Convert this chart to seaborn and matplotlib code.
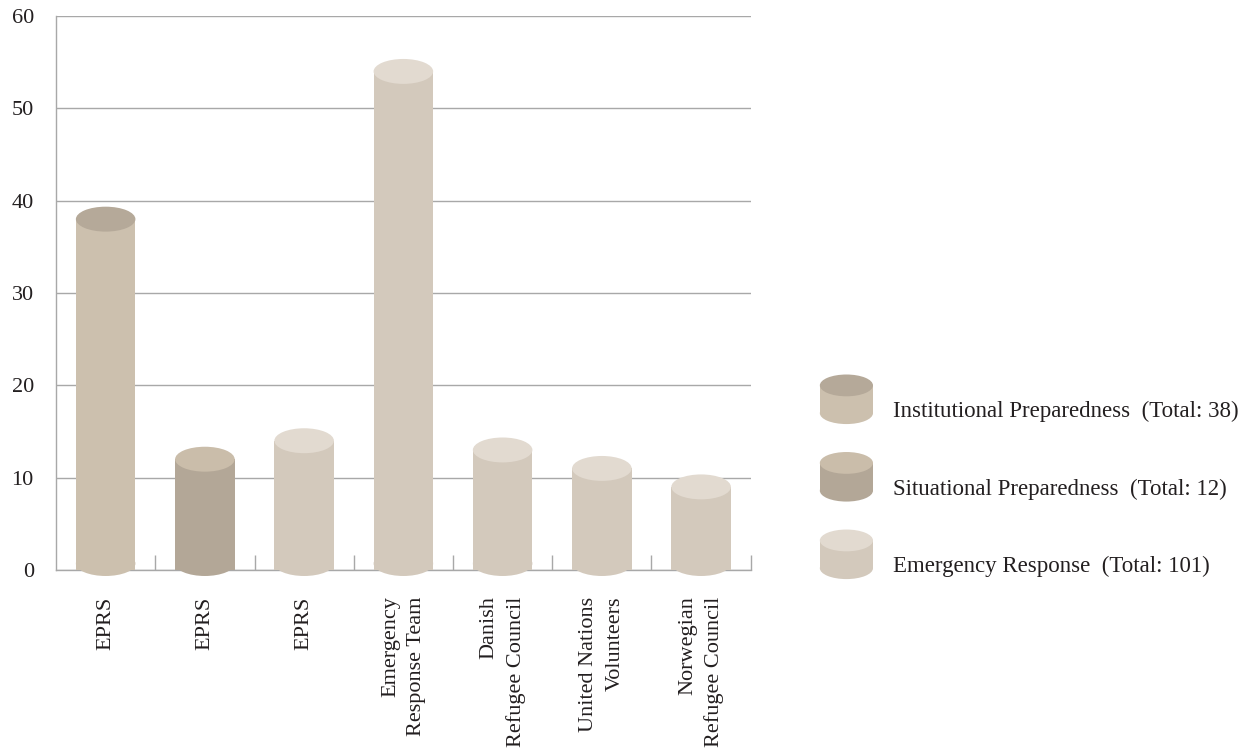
import matplotlib
matplotlib.use("Agg")
import matplotlib.pyplot as plt
import seaborn as sns
import pandas as pd
from matplotlib.patches import Rectangle, Ellipse
from matplotlib.legend_handler import HandlerBase

# ---- data ----
categories = ["EPRS", "EPRS", "EPRS", "Emergency\nResponse Team", "Danish\nRefugee Council",
              "United Nations\nVolunteers", "Norwegian\nRefugee Council"]
series = ["Institutional Preparedness", "Situational Preparedness", "Emergency Response",
          "Emergency Response", "Emergency Response", "Emergency Response", "Emergency Response"]
values = [38, 12, 14, 54, 13, 11, 9]
series_names = ["Institutional Preparedness", "Situational Preparedness", "Emergency Response"]
series_totals = [38, 12, 101]
y_ticks = [0, 10, 20, 30, 40, 50, 60]

# ---- styles ----
body_colors = {"Institutional Preparedness": "#CCC0AE",
               "Situational Preparedness": "#B3A797",
               "Emergency Response": "#D3C9BC"}
top_colors = {"Institutional Preparedness": "#B5A999",
              "Situational Preparedness": "#CABDAA",
              "Emergency Response": "#E2DAD0"}
TEXT = "#231F20"
GRID = "#A8A8A8"

sns.set_theme(style="white")
plt.rcParams["font.family"] = ["Liberation Serif", "DejaVu Serif"]

df = pd.DataFrame({"slot": list(range(len(values))), "value": values, "series": series})

fig = plt.figure(figsize=(12.45, 7.49), dpi=100)
ax = fig.add_axes([0.045, 0.239, 0.558, 0.7396])

sns.barplot(data=df, x="slot", y="value", hue="series", dodge=False, width=0.6,
            palette=body_colors, hue_order=series_names, legend=False, ax=ax,
            saturation=1, linewidth=0, zorder=3)

ax.set_ylim(0, 60)
ax.set_xlim(-0.5, len(values) - 0.5)

# cylinder caps
ell_h = 2.7
for p in ax.patches[:]:
    h = p.get_height()
    if h == 0 or pd.isna(h):
        continue
    x0 = p.get_x()
    w = p.get_width()
    idx = int(round(x0 + w / 2))
    s = series[idx]
    ax.add_patch(Ellipse((x0 + w / 2, 0.7), w, ell_h, facecolor=body_colors[s],
                         edgecolor="none", zorder=3, clip_on=False))
    ax.add_patch(Ellipse((x0 + w / 2, h), w, ell_h, facecolor=top_colors[s],
                         edgecolor="none", zorder=4, clip_on=False))

# grid & spines
ax.set_yticks(y_ticks)
ax.yaxis.grid(True, color=GRID, linewidth=1.0, zorder=0)
ax.xaxis.grid(False)
ax.set_axisbelow(True)
for sp in ["top", "right"]:
    ax.spines[sp].set_visible(False)
for sp in ["left", "bottom"]:
    ax.spines[sp].set_color(GRID)
    ax.spines[sp].set_linewidth(1.0)
    ax.spines[sp].set_zorder(1)

ax.set_xticks(range(len(categories)))
ax.set_xticklabels(categories, rotation=90, ha="center", va="top",
                   multialignment="right", color=TEXT, fontsize=16, linespacing=1.5)
ax.set_xticks([i + 0.5 for i in range(len(categories))], minor=True)
ax.tick_params(axis="x", which="major", length=0, pad=19)
ax.tick_params(axis="x", which="minor", direction="in", length=11, width=1.0,
               color=GRID, bottom=True)
ax.tick_params(axis="y", length=0, pad=16, labelsize=16, labelcolor=TEXT)
ax.set_xlabel("")
ax.set_ylabel("")


# legend with cylinder handles
class Cylinder:
    def __init__(self, body, top):
        self.body = body
        self.top = top


class HandlerCylinder(HandlerBase):
    def create_artists(self, legend, orig_handle, xdescent, ydescent, width, height,
                       fontsize, trans):
        eh = height * 0.44
        x0, y0 = -xdescent, -ydescent
        body = Rectangle((x0, y0 + eh / 2), width, height - eh, facecolor=orig_handle.body,
                         edgecolor="none", transform=trans)
        bot = Ellipse((x0 + width / 2, y0 + eh / 2), width, eh, facecolor=orig_handle.body,
                      edgecolor="none", transform=trans)
        top = Ellipse((x0 + width / 2, y0 + height - eh / 2), width, eh,
                      facecolor=orig_handle.top, edgecolor="none", transform=trans)
        return [bot, body, top]


handles = [Cylinder(body_colors[s], top_colors[s]) for s in series_names]
labels = [f"{s}  (Total: {t})" for s, t in zip(series_names, series_totals)]
leg = fig.legend(handles, labels, handler_map={Cylinder: HandlerCylinder()},
                 loc="upper left", bbox_to_anchor=(0.6585, 0.5), frameon=False,
                 fontsize=16.5, handlelength=2.32, handleheight=2.95, handletextpad=0.87,
                 labelspacing=1.22, borderpad=0, borderaxespad=0, labelcolor=TEXT)
for t in leg.get_texts():
    t.set_position((0, -11))

fig.savefig("out.png", dpi=100, facecolor="white")
